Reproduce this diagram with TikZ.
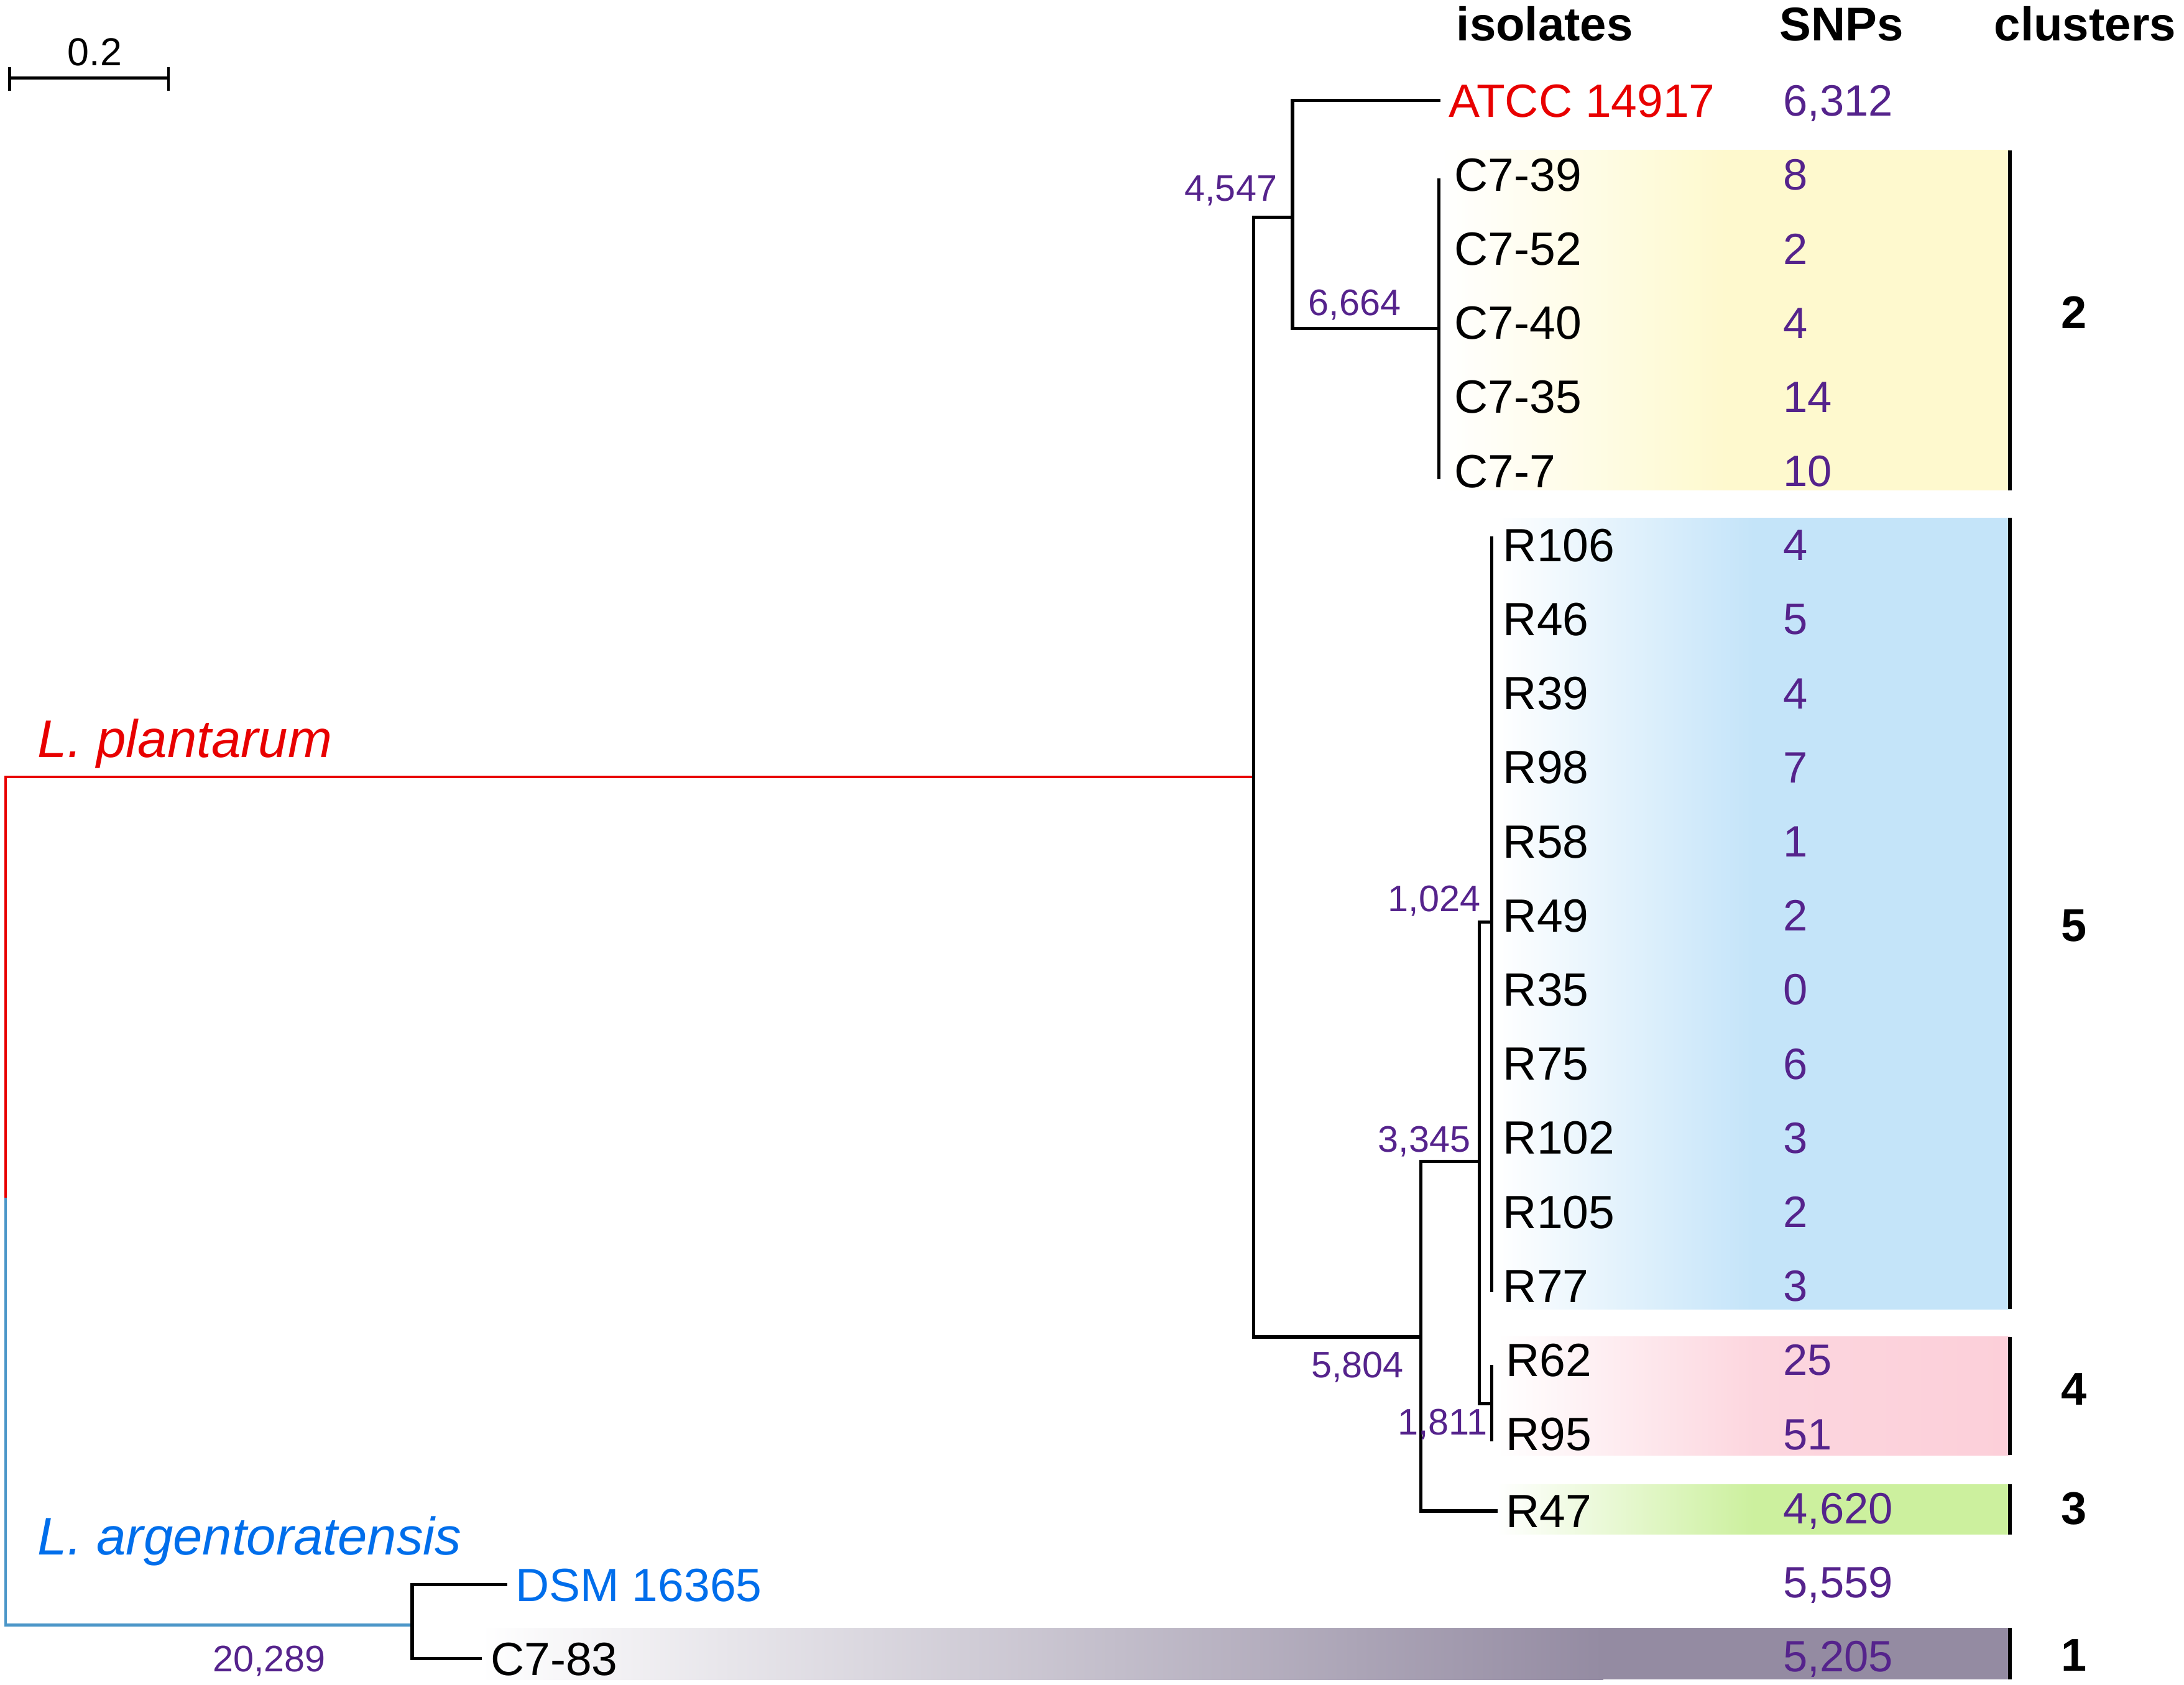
\documentclass[tikz,border=0pt]{standalone}
\usepackage{fontspec}
\setmainfont{Liberation Sans}
\definecolor{snpc}{RGB}{85,35,140}
\definecolor{redc}{RGB}{232,0,0}
\definecolor{bluec}{RGB}{0,110,235}
\definecolor{rootblue}{RGB}{75,150,200}
\definecolor{yelc}{RGB}{254,249,206}
\definecolor{bluebg}{RGB}{196,228,249}
\definecolor{pinkc}{RGB}{252,207,217}
\definecolor{greenc}{RGB}{204,240,158}
\definecolor{grayc}{RGB}{148,139,162}
\begin{document}
\begin{tikzpicture}
		[x=1pt,y=-1pt,
		branch/.style={line width=2.4pt},
		leaf/.style={anchor=west,inner xsep=6pt,inner ysep=0pt,text height=24pt,text depth=0pt,font=\fontsize{33.5}{40}\selectfont},
		snp/.style={anchor=west,inner sep=0pt,text height=22.6pt,text depth=0pt,text=snpc,font=\fontsize{31.5}{38}\selectfont},
		split/.style={anchor=east,inner sep=0pt,text height=19pt,text depth=0pt,text=snpc,font=\fontsize{26.5}{32}\selectfont},
		head/.style={inner sep=0pt,text height=24.4pt,text depth=0pt,font=\fontsize{34}{40}\selectfont\bfseries},
		clnum/.style={inner sep=0pt,text height=23.7pt,text depth=0pt,font=\fontsize{33}{40}\selectfont\bfseries},
		species/.style={anchor=west,inner sep=0pt,text height=27.3pt,text depth=0pt,font=\fontsize{38}{44}\selectfont\itshape},
		clbar/.style={line width=3pt}]
		\useasboundingbox (0,0) rectangle (1568,1210);
		% coloured bands behind the isolates
		\shade[left color=white,right color=yelc,middle color=yelc] (1035,108) rectangle (1443,352);
		\shade[left color=white,right color=bluebg,middle color=bluebg] (1075,372) rectangle (1443,940);
		\shade[left color=white,right color=pinkc,middle color=pinkc!85] (1075,960) rectangle (1443,1045);
		\shade[left color=white,right color=greenc,middle color=greenc] (1075,1066) rectangle (1443,1102);
		\shade[left color=white,right color=grayc] (345,1169) rectangle (1151,1206);
		\fill[grayc] (1150,1169) rectangle (1443,1206);
		\draw[clbar] (1443,108) -- (1443,352);
		\draw[clbar] (1443,372) -- (1443,940);
		\draw[clbar] (1443,960) -- (1443,1045);
		\draw[clbar] (1443,1066) -- (1443,1102);
		\draw[clbar] (1443,1169) -- (1443,1206);
		% scale bar
		\draw[line width=2pt] (7,48) -- (7,65) (7,56) -- (121,56) (121,48) -- (121,65);
		\node[inner sep=0pt,text height=20.2pt,text depth=0pt,font=\fontsize{28}{34}\selectfont,name=scale] at (68,37) {0.2};
		% headers
		\node[head,name=hiso] at (1109,17) {isolates};
		\node[head,name=hsnp] at (1322,17) {SNPs};
		\node[head,name=hcl] at (1497,17) {clusters};
		% isolates
		\node[leaf,name=atcc,text=redc] at (1034,72) {ATCC 14917};
		\node[leaf,name=c739] at (1038,125.2) {C7-39};
		\node[leaf,name=c752] at (1038,178.4) {C7-52};
		\node[leaf,name=c740] at (1038,231.6) {C7-40};
		\node[leaf,name=c735] at (1038,284.8) {C7-35};
		\node[leaf,name=c77] at (1038,338) {C7-7};
		\node[leaf,name=r106] at (1073,391.2) {R106};
		\node[leaf,name=r46] at (1073,444.4) {R46};
		\node[leaf,name=r39] at (1073,497.6) {R39};
		\node[leaf,name=r98] at (1073,550.8) {R98};
		\node[leaf,name=r58] at (1073,604) {R58};
		\node[leaf,name=r49] at (1073,657.2) {R49};
		\node[leaf,name=r35] at (1073,710.4) {R35};
		\node[leaf,name=r75] at (1073,763.6) {R75};
		\node[leaf,name=r102] at (1073,816.8) {R102};
		\node[leaf,name=r105] at (1073,870) {R105};
		\node[leaf,name=r77] at (1073,923.2) {R77};
		\node[leaf,name=r62] at (1075,976.4) {R62};
		\node[leaf,name=r95] at (1075,1029.6) {R95};
		\node[leaf,name=r47] at (1075,1085) {R47};
		\node[leaf,name=dsm,text=bluec] at (364,1138) {DSM 16365};
		\node[leaf,name=c783] at (346,1191) {C7-83};
		% SNPs column
		\node[snp,name=s1] at (1280,72) {6,312};
		\node[snp,name=s2] at (1280,125.2) {8};
		\node[snp,name=s3] at (1280,178.4) {2};
		\node[snp,name=s4] at (1280,231.6) {4};
		\node[snp,name=s5] at (1280,284.8) {14};
		\node[snp,name=s6] at (1280,338) {10};
		\node[snp,name=s7] at (1280,391.2) {4};
		\node[snp,name=s8] at (1280,444.4) {5};
		\node[snp,name=s9] at (1280,497.6) {4};
		\node[snp,name=s10] at (1280,550.8) {7};
		\node[snp,name=s11] at (1280,604) {1};
		\node[snp,name=s12] at (1280,657.2) {2};
		\node[snp,name=s13] at (1280,710.4) {0};
		\node[snp,name=s14] at (1280,763.6) {6};
		\node[snp,name=s15] at (1280,816.8) {3};
		\node[snp,name=s16] at (1280,870) {2};
		\node[snp,name=s17] at (1280,923.2) {3};
		\node[snp,name=s18] at (1280,976.4) {25};
		\node[snp,name=s19] at (1280,1029.6) {51};
		\node[snp,name=s20] at (1280,1082.8) {4,620};
		\node[snp,name=s21] at (1280,1136) {5,559};
		\node[snp,name=s22] at (1280,1189.2) {5,205};
		% clusters
		\node[clnum,name=cl2] at (1489,224) {2};
		\node[clnum,name=cl5] at (1489,664) {5};
		\node[clnum,name=cl4] at (1489,997) {4};
		\node[clnum,name=cl3] at (1489,1083) {3};
		\node[clnum,name=cl1] at (1489,1188) {1};
		% species
		\node[species,name=plant,text=redc] at (27,530) {L. plantarum};
		\node[species,name=argen,text=bluec] at (27,1103) {L. argentoratensis};
		% tree
		\coordinate (root) at (4,860);
		\coordinate (lp) at (900,558);
		\coordinate (la) at (296,1167);
		\coordinate (n4547) at (928,156);
		\coordinate (n6664) at (1033,236);
		\coordinate (c7top) at (1033,128);
		\coordinate (c7bot) at (1033,344);
		\coordinate (n5804) at (1020,960);
		\coordinate (n3345) at (1062,834);
		\coordinate (n1024) at (1071,662);
		\coordinate (rtop) at (1071,385);
		\coordinate (rbot) at (1071,928);
		\coordinate (n1811) at (1071,1008);
		\coordinate (r62top) at (1071,980);
		\coordinate (r95bot) at (1071,1035);
		\draw[branch,redc,line width=2pt] (root) |- (lp);
		\draw[branch,rootblue,line width=2pt] (root) |- (la);
		\draw[branch] (lp) |- (n4547);
		\draw[branch] (lp) |- (n5804);
		\draw[branch] (n4547) |- (atcc.west);
		\draw[branch] (n4547) |- (n6664);
		\draw[branch] (c7top) -- (c7bot);
		\draw[branch] (n5804) |- (n3345);
		\draw[branch] (n5804) |- (r47.west);
		\draw[branch] (n3345) |- (n1024);
		\draw[branch] (n3345) |- (n1811);
		\draw[branch] (rtop) -- (rbot);
		\draw[branch] (r62top) -- (r95bot);
		\draw[branch] (la) |- (dsm.west);
		\draw[branch] (la) |- (c783.west);
		% SNPs at the splits
		\node[split,name=l4547] at (917,135) {4,547};
		\node[split,name=l6664] at (1006,217) {6,664};
		\node[split,name=l1024] at (1063,645) {1,024};
		\node[split,name=l3345] at (1056,818) {3,345};
		\node[split,name=l5804] at (1008,980) {5,804};
		\node[split,name=l1811] at (1068,1021) {1,811};
		\node[split,name=l20289] at (234,1191) {20,289};
	\end{tikzpicture}
\end{document}
